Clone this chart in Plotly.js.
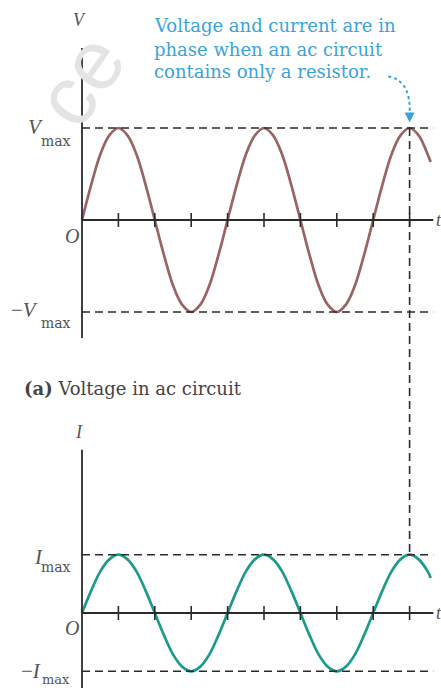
<!DOCTYPE html>
<html>
<head>
<meta charset="utf-8">
<script src="https://cdn.plot.ly/plotly-3.0.1.min.js"></script>
<style>html,body{margin:0;padding:0;background:#fff;}#chart{width:441px;height:688px;}</style>
</head>
<body>
<div id="chart"></div>
<script>
// ---- data (time in quarter-periods) ----
const tSamples = [0,0.25,0.5,0.75,1,1.25,1.5,1.75,2,2.25,2.5,2.75,3,3.25,3.5,3.75,
                  4,4.25,4.5,4.75,5,5.25,5.5,5.75,6,6.25,6.5,6.75,7,7.25,7.5,7.75,
                  8,8.25,8.5,8.75,9,9.25,9.5,9.58];
const voltage  = [0,0.38,0.71,0.92,1,0.92,0.71,0.38,0,-0.38,-0.71,-0.92,-1,-0.92,-0.71,-0.38,
                  0,0.38,0.71,0.92,1,0.92,0.71,0.38,0,-0.38,-0.71,-0.92,-1,-0.92,-0.71,-0.38,
                  0,0.38,0.71,0.92,1,0.92,0.71,0.63];
const current  = [0,0.38,0.71,0.92,1,0.92,0.71,0.38,0,-0.38,-0.71,-0.92,-1,-0.92,-0.71,-0.38,
                  0,0.38,0.71,0.92,1,0.92,0.71,0.38,0,-0.38,-0.71,-0.92,-1,-0.92,-0.71,-0.38,
                  0,0.38,0.71,0.92,1,0.92,0.71,0.60];
const tickPositions = [1,2,3,4,5,6,7,8,9];
const tickZeros = [0,0,0,0,0,0,0,0,0];
const levels = [1,-1];
const phasePeak = 9;   // peak where both curves are marked in phase
const calloutLines = ['Voltage and current are in', 'phase when an ac circuit', 'contains only a resistor.'];

// ---- geometry ----
const W = 441, H = 688;
const xRange = [-2.2527, 9.8626];
const yRangeV = [-5.087, 2.3913];
const yRangeI = [-1.2864, 10.5146];
const xEnd = 9.65;
const px = x => x / W;
const py = y => 1 - y / H;
const paperY = (v, r) => (v - r[0]) / (r[1] - r[0]);

const brown = '#9a6462', teal = '#1d9a8a', axisCol = '#2b2b2b', labelCol = '#555', blue = '#3aa3da';
const serif = 'Liberation Serif, serif';
const dserif = 'DejaVu Serif, serif';

const traces = [
  {x: tSamples, y: voltage, mode: 'lines', line: {color: brown, width: 2.7, shape: 'spline', smoothing: 1}, hoverinfo: 'skip'},
  {x: tSamples, y: current, yaxis: 'y2', mode: 'lines', line: {color: teal, width: 2.7, shape: 'spline', smoothing: 1}, hoverinfo: 'skip'},
  {x: tickPositions, y: tickZeros, mode: 'markers', marker: {symbol: 'line-ns', size: 10, line: {color: axisCol, width: 1.6}}, hoverinfo: 'skip'},
  {x: tickPositions, y: tickZeros, yaxis: 'y2', mode: 'markers', marker: {symbol: 'line-ns', size: 10, line: {color: axisCol, width: 1.6}}, hoverinfo: 'skip'}
];

const shapes = [];
// axes
shapes.push({type: 'line', xref: 'x', yref: 'y', x0: 0, x1: 0, y0: -1.283, y1: 1.87, line: {color: axisCol, width: 1.8}});
shapes.push({type: 'line', xref: 'x', yref: 'y', x0: 0, x1: xEnd, y0: 0, y1: 0, line: {color: axisCol, width: 1.8}});
shapes.push({type: 'line', xref: 'x', yref: 'y2', x0: 0, x1: 0, y0: -1.3, y1: 2.8, line: {color: axisCol, width: 1.8}});
shapes.push({type: 'line', xref: 'x', yref: 'y2', x0: 0, x1: xEnd, y0: 0, y1: 0, line: {color: axisCol, width: 1.8}});
// dashed level lines
levels.forEach(l => {
  shapes.push({type: 'line', xref: 'x', yref: 'y', x0: 0, x1: xEnd, y0: l, y1: l, line: {color: axisCol, width: 1.6, dash: '8px,5px'}});
  shapes.push({type: 'line', xref: 'x', yref: 'y2', x0: 0, x1: xEnd, y0: l, y1: l, line: {color: axisCol, width: 1.6, dash: '8px,5px'}});
});
// vertical dashed connector between peaks
shapes.push({type: 'line', xref: 'x', yref: 'paper', x0: phasePeak, x1: phasePeak,
  y0: paperY(1, yRangeV), y1: paperY(1, yRangeI), line: {color: axisCol, width: 1.6, dash: '8px,5px'}});
// dotted curved arrow
shapes.push({type: 'path', xref: 'x', yref: 'y', path: 'M 8.41,1.56 Q 9.05,1.52 9.0,1.14', line: {color: blue, width: 2, dash: 'dot'}});

const ann = [];
const t = (x, y, text, size, color, opts) => Object.assign({xref: 'paper', yref: 'paper', x: px(x), y: py(y), text: text, showarrow: false,
  font: {family: serif, size: size, color: color}, xanchor: 'center', yanchor: 'middle'}, opts || {});
// watermark
ann.push(t(80, 80, 'ce', 84, '#e4e4e4', {textangle: -55, font: {family: 'Liberation Sans, sans-serif', size: 84, color: '#e4e4e4'}}));
// callout
calloutLines.forEach((line, i) => ann.push(t(152, 26 + i * 23, line, 18, blue, {xanchor: 'left', font: {family: dserif, size: 18, color: blue}})));
ann.push({xref: 'x', yref: 'y', x: phasePeak, y: 1.06, ax: 0, ay: -9, text: '', showarrow: true, arrowhead: 2, arrowsize: 1, arrowwidth: 2, arrowcolor: blue});
// top chart labels
ann.push(t(79, 20, '<i>V</i>', 18, labelCol));
ann.push(t(35, 127, '<i>V</i>', 21, labelCol));
ann.push(t(56, 141, 'max', 14, labelCol, {font: {family: dserif, size: 14, color: labelCol}}));
ann.push(t(24, 310, '\u2212<i>V</i>', 21, labelCol));
ann.push(t(56, 323, 'max', 14, labelCol, {font: {family: dserif, size: 14, color: labelCol}}));
ann.push(t(72, 236, '<i>O</i>', 20, labelCol));
ann.push(t(434, 220, '<i>t</i>', 18, labelCol, {xanchor: 'left'}));
ann.push(t(22, 388, '<b>(a)</b> Voltage in ac circuit', 18, '#444', {xanchor: 'left', font: {family: dserif, size: 18, color: '#444'}}));
// bottom chart labels
ann.push(t(79, 432, '<i>I</i>', 18, labelCol));
ann.push(t(38, 557, '<i>I</i>', 21, labelCol));
ann.push(t(56, 567, 'max', 14, labelCol, {font: {family: dserif, size: 14, color: labelCol}}));
ann.push(t(31, 671, '\u2212<i>I</i>', 21, labelCol));
ann.push(t(56, 679, 'max', 13, labelCol, {font: {family: dserif, size: 13, color: labelCol}}));
ann.push(t(72, 628, '<i>O</i>', 20, labelCol));
ann.push(t(434, 613, '<i>t</i>', 18, labelCol, {xanchor: 'left'}));

const layout = {
  width: W, height: H, margin: {l: 0, r: 0, t: 0, b: 0},
  paper_bgcolor: '#fff', plot_bgcolor: 'rgba(0,0,0,0)', showlegend: false,
  xaxis: {range: xRange, visible: false, domain: [0, 1], fixedrange: true},
  yaxis: {range: yRangeV, visible: false, domain: [0, 1], fixedrange: true},
  yaxis2: {range: yRangeI, visible: false, overlaying: 'y', fixedrange: true},
  shapes: shapes, annotations: ann
};
Plotly.newPlot('chart', traces, layout, {staticPlot: true, displayModeBar: false});
</script>
</body>
</html>
